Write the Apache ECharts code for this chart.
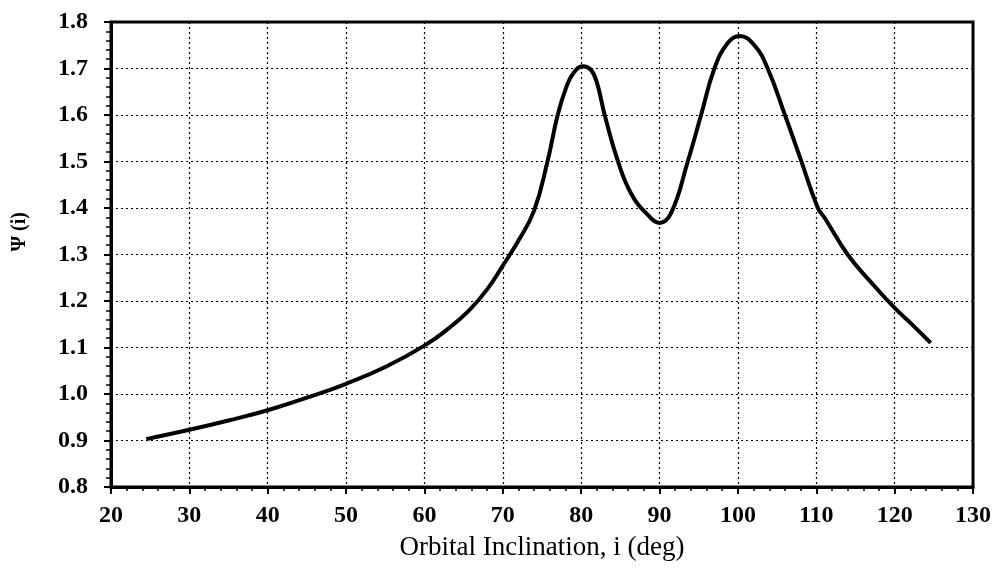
<!DOCTYPE html>
<html>
<head>
<meta charset="utf-8">
<script src="https://cdn.jsdelivr.net/npm/echarts@6/dist/echarts.min.js"></script>
<style>html,body{margin:0;padding:0;background:#fff;}#c{width:997px;height:570px;}</style>
</head>
<body>
<div id="c"></div>
<script>
// Orbital inclination (deg)
var inclination = [24.5, 30, 35, 40, 45, 50, 55, 60, 63, 65.7, 68, 70, 72, 74, 75.7, 77, 78.1, 79, 80.2, 81.2, 82, 83, 84.7, 86.4, 88.5, 90, 91.5, 93.6, 95.3, 97, 98.7, 100.2, 102.1, 103.8, 106, 107.9, 110.2, 111.1, 114, 117, 120, 122.5, 124.6];
// Psi(i)
var psi = [0.903, 0.923, 0.943, 0.965, 0.992, 1.022, 1.058, 1.104, 1.14, 1.18, 1.225, 1.276, 1.33, 1.395, 1.5, 1.6, 1.66, 1.69, 1.705, 1.698, 1.67, 1.6, 1.5, 1.43, 1.385, 1.368, 1.39, 1.5, 1.6, 1.7, 1.755, 1.77, 1.75, 1.70, 1.6, 1.51, 1.4, 1.378, 1.30, 1.24, 1.185, 1.145, 1.11];
var xTicks = {min: 20, max: 130, interval: 10};
var yTicks = {min: 0.8, max: 1.8, interval: 0.1};

var data = inclination.map(function (x, i) { return [x, psi[i]]; });
var serif = '"Liberation Serif", "DejaVu Serif", serif';
var chart = echarts.init(document.getElementById('c'));
chart.setOption({
  animation: false,
  backgroundColor: '#fff',
  grid: {left: 111, right: 24, top: 22, bottom: 83, show: true, borderColor: '#000', borderWidth: 3},
  graphic: [{
    type: 'text', left: 10, top: 212, rotation: Math.PI / 2,
    style: {text: 'Ψ (i)', font: 'bold 20px ' + serif, fill: '#000'}
  }],
  xAxis: {
    type: 'value', min: xTicks.min, max: xTicks.max, interval: xTicks.interval,
    name: 'Orbital Inclination, i (deg)', nameLocation: 'middle', nameGap: 47,
    nameTextStyle: {fontFamily: serif, fontSize: 27, color: '#000'},
    axisLine: {show: true, onZero: false, lineStyle: {color: '#000', width: 3}},
    axisTick: {show: true, inside: false, length: 7, lineStyle: {color: '#000', width: 2}},
    minorTick: {show: true, splitNumber: 5, length: 4, lineStyle: {color: '#000', width: 1.5}},
    axisLabel: {fontFamily: serif, fontSize: 24, fontWeight: 'bold', color: '#000', margin: 17},
    splitLine: {show: true, lineStyle: {color: '#000', type: [2, 3], width: 1.2}}
  },
  yAxis: {
    type: 'value', min: yTicks.min, max: yTicks.max, interval: yTicks.interval,
    axisLine: {show: true, onZero: false, lineStyle: {color: '#000', width: 3}},
    axisTick: {show: true, inside: false, length: 7, lineStyle: {color: '#000', width: 2}},
    minorTick: {show: true, splitNumber: 5, length: 5, lineStyle: {color: '#000', width: 1.5}},
    axisLabel: {fontFamily: serif, fontSize: 24, fontWeight: 'bold', color: '#000', margin: 23,
      formatter: function (v) { return v.toFixed(1); }},
    splitLine: {show: true, lineStyle: {color: '#000', type: [2, 3], width: 1.2}}
  },
  series: [{
    type: 'line', data: data, smooth: 0.45, showSymbol: false,
    lineStyle: {color: '#000', width: 4}
  }]
});
</script>
</body>
</html>
